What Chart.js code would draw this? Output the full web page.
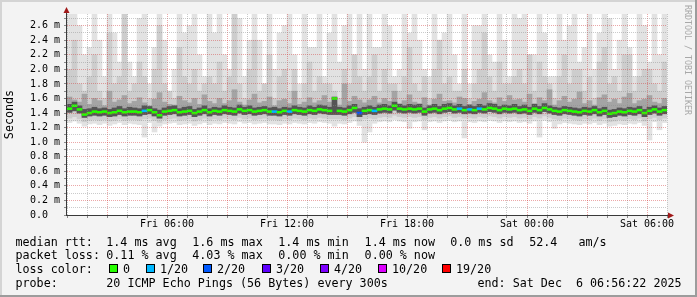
<!DOCTYPE html>
<html><head><meta charset="utf-8">
<script src="https://cdn.jsdelivr.net/npm/chart.js@4/dist/chart.umd.min.js"></script>
<style>html,body{margin:0;padding:0;background:#f3f3f3;overflow:hidden}canvas{display:block}</style>
</head><body>
<canvas id="c" width="697" height="297"></canvas>
<script>
// time axis: hours since Fri 00:00; window Fri 00:56 -> Sat 06:56, one column per 15 min
const startHour = 0.94;
const stepHours = 0.25;
const xTickHours = [6, 12, 18, 24, 30];
const xTickLabels = ['Fri 06:00', 'Fri 12:00', 'Fri 18:00', 'Sat 00:00', 'Sat 06:00'];
const yTickValues = [0, 0.2, 0.4, 0.6, 0.8, 1.0, 1.2, 1.4, 1.6, 1.8, 2.0, 2.2, 2.4, 2.6];
const yTickLabels = ['0.0  ', '0.2 m', '0.4 m', '0.6 m', '0.8 m', '1.0 m', '1.2 m', '1.4 m', '1.6 m', '1.8 m', '2.0 m', '2.2 m', '2.4 m', '2.6 m'];

// ping distribution per column (ms)
const maxPing = [
2.8,2.8,2.6,2.2,2.3,2.8,2.4,1.9,2.8,2.5,2.1,2.8,2.1,1.9,2.7,2.8,1.8,2.3,2.8,2.4,1.7,2.0,2.8,2.5,2.6,2.8,2.2,1.9,2.8,2.5,
2.8,2.2,2.0,2.8,2.7,1.9,2.4,2.8,2.4,1.8,2.8,2.0,2.5,2.6,2.8,2.2,1.8,2.8,2.3,2.3,2.8,1.9,2.5,2.8,2.1,2.6,2.8,2.2,2.8,2.0,
2.8,2.3,2.3,2.8,2.6,1.9,2.0,2.8,2.5,2.8,2.4,2.0,1.9,2.8,2.4,2.5,2.8,2.2,1.8,2.8,1.8,2.6,2.6,2.8,2.2,2.1,2.8,2.4,1.9,2.8,
2.7,2.8,2.2,2.2,2.8,2.5,1.9,1.9,2.8,2.4,2.6,2.8,2.1,2.3,2.8,2.0,2.5,2.8,2.7,2.0,2.4,2.8,2.3,1.9,2.8,2.6,2.1,2.8,2.2,2.8];
const highPing = [
2.0,2.4,1.8,1.7,1.9,2.2,1.7,1.6,2.5,1.8,1.9,2.8,1.7,1.8,2.1,1.9,1.6,2.0,2.6,1.8,1.7,1.6,2.3,1.9,1.8,2.0,1.7,1.8,1.9,1.8,
2.1,1.7,1.9,2.8,1.8,1.6,2.0,2.4,1.7,1.8,2.2,1.6,1.9,2.0,1.7,2.0,1.6,1.8,2.1,1.7,1.9,1.8,1.8,1.7,1.6,2.0,1.8,2.2,1.9,1.7,
1.9,2.2,1.7,2.0,1.8,1.8,1.7,1.9,2.3,1.8,1.7,1.9,1.6,2.0,2.4,1.8,1.9,1.7,1.7,2.0,1.6,1.8,2.0,2.5,1.9,1.7,2.1,1.8,1.8,1.9,
2.0,1.8,2.2,1.7,2.1,1.9,1.8,1.6,1.9,2.2,1.8,2.0,2.0,1.7,1.9,1.6,2.1,2.3,1.8,1.9,1.7,2.2,2.2,1.7,1.9,2.0,2.0,1.8,1.7,2.1];
const upperPing = [
1.62,1.58,1.55,1.66,1.52,1.60,1.57,1.50,1.70,1.55,1.58,1.64,1.53,1.56,1.61,1.54,1.50,1.59,1.68,1.55,1.52,1.51,1.63,1.57,1.54,1.60,1.52,1.65,1.56,1.53,
1.60,1.53,1.57,1.72,1.55,1.51,1.58,1.66,1.54,1.56,1.62,1.50,1.57,1.59,1.53,1.70,1.52,1.55,1.61,1.54,1.57,1.64,1.55,1.53,1.51,1.80,1.56,1.63,1.58,1.54,
1.58,1.63,1.54,1.60,1.56,1.70,1.53,1.57,1.65,1.55,1.53,1.61,1.51,1.59,1.66,1.56,1.57,1.54,1.62,1.60,1.52,1.56,1.59,1.68,1.57,1.54,1.61,1.56,1.64,1.58,
1.59,1.55,1.66,1.53,1.61,1.57,1.72,1.51,1.57,1.63,1.55,1.59,1.69,1.53,1.57,1.51,1.61,1.65,1.55,1.59,1.53,1.62,1.67,1.53,1.57,1.59,1.64,1.55,1.53,1.60];
const nearHigh = [
1.52,1.55,1.50,1.45,1.46,1.48,1.46,1.47,1.45,1.47,1.49,1.46,1.48,1.47,1.46,1.50,1.49,1.46,1.44,1.47,1.49,1.50,1.46,1.48,1.49,1.45,1.47,1.50,1.46,1.48,
1.47,1.50,1.48,1.47,1.51,1.48,1.50,1.47,1.48,1.49,1.47,1.48,1.46,1.48,1.47,1.50,1.48,1.47,1.50,1.48,1.51,1.50,1.48,1.62,1.48,1.47,1.50,1.52,1.46,1.48,
1.50,1.48,1.51,1.52,1.50,1.55,1.52,1.50,1.52,1.51,1.52,1.47,1.50,1.52,1.49,1.52,1.53,1.50,1.52,1.49,1.51,1.49,1.52,1.50,1.53,1.52,1.49,1.51,1.50,1.52,
1.49,1.51,1.48,1.52,1.49,1.53,1.50,1.48,1.47,1.49,1.48,1.47,1.46,1.48,1.47,1.49,1.46,1.48,1.44,1.45,1.47,1.46,1.48,1.47,1.49,1.45,1.48,1.50,1.47,1.49];
const medianRtt = [
1.46,1.50,1.45,1.38,1.40,1.42,1.41,1.42,1.40,1.41,1.43,1.41,1.42,1.42,1.41,1.43,1.44,1.41,1.37,1.42,1.43,1.44,1.41,1.42,1.43,1.40,1.42,1.44,1.41,1.43,
1.42,1.44,1.43,1.42,1.45,1.43,1.44,1.42,1.43,1.44,1.42,1.42,1.41,1.43,1.42,1.44,1.43,1.42,1.44,1.43,1.45,1.44,1.43,1.60,1.43,1.42,1.44,1.47,1.40,1.43,
1.44,1.43,1.45,1.46,1.45,1.50,1.46,1.45,1.46,1.45,1.46,1.42,1.45,1.46,1.44,1.46,1.47,1.45,1.46,1.44,1.45,1.44,1.46,1.45,1.47,1.46,1.44,1.46,1.45,1.46,
1.44,1.45,1.43,1.46,1.44,1.47,1.45,1.43,1.42,1.44,1.43,1.42,1.41,1.43,1.42,1.44,1.41,1.43,1.39,1.40,1.42,1.41,1.43,1.42,1.44,1.40,1.43,1.45,1.42,1.44];
const nearLow = [
1.41,1.43,1.40,1.34,1.36,1.37,1.36,1.37,1.35,1.36,1.38,1.36,1.37,1.37,1.36,1.38,1.39,1.36,1.33,1.37,1.38,1.39,1.36,1.37,1.38,1.35,1.37,1.39,1.36,1.38,
1.37,1.39,1.38,1.37,1.40,1.38,1.39,1.37,1.38,1.39,1.37,1.37,1.36,1.38,1.37,1.39,1.38,1.37,1.39,1.38,1.40,1.39,1.38,1.38,1.38,1.37,1.39,1.41,1.35,1.38,
1.39,1.38,1.40,1.41,1.40,1.44,1.41,1.40,1.41,1.40,1.41,1.37,1.40,1.41,1.39,1.41,1.42,1.40,1.41,1.39,1.40,1.39,1.41,1.40,1.42,1.41,1.39,1.41,1.40,1.41,
1.39,1.40,1.38,1.41,1.39,1.42,1.40,1.38,1.37,1.39,1.38,1.37,1.36,1.38,1.37,1.39,1.36,1.38,1.34,1.35,1.37,1.36,1.38,1.37,1.39,1.35,1.38,1.40,1.37,1.39];
const lowPing = [
1.33,1.35,1.32,1.28,1.30,1.31,1.30,1.31,1.29,1.30,1.32,1.30,1.31,1.31,1.30,1.32,1.33,1.30,1.27,1.31,1.32,1.33,1.30,1.31,1.32,1.29,1.31,1.33,1.30,1.32,
1.31,1.33,1.32,1.31,1.34,1.32,1.33,1.31,1.32,1.33,1.31,1.31,1.30,1.32,1.31,1.33,1.32,1.31,1.33,1.32,1.34,1.33,1.32,1.32,1.32,1.31,1.33,1.35,1.29,1.32,
1.33,1.32,1.34,1.35,1.34,1.37,1.35,1.34,1.35,1.34,1.35,1.31,1.34,1.35,1.33,1.35,1.36,1.34,1.35,1.33,1.34,1.33,1.35,1.34,1.36,1.35,1.33,1.35,1.34,1.35,
1.33,1.34,1.32,1.35,1.33,1.36,1.34,1.32,1.31,1.33,1.32,1.31,1.30,1.32,1.31,1.33,1.30,1.32,1.28,1.29,1.31,1.30,1.32,1.31,1.33,1.29,1.32,1.34,1.31,1.33];
const minPing = [
1.27,1.29,1.26,1.22,1.25,1.26,1.24,1.26,1.23,1.25,1.27,1.24,1.26,1.25,1.24,1.07,1.27,1.14,1.22,1.25,1.26,1.27,1.24,1.25,1.26,1.23,1.25,1.27,1.24,1.26,
1.25,1.27,1.26,1.25,1.28,1.26,1.27,1.25,1.26,1.27,1.25,1.25,1.24,1.26,1.25,1.27,1.26,1.25,1.27,1.26,1.28,1.27,1.26,1.22,1.26,1.25,1.27,1.29,1.23,1.00,
1.14,1.26,1.28,1.29,1.28,1.31,1.29,1.28,1.19,1.28,1.29,1.17,1.28,1.29,1.27,1.29,1.30,1.28,1.29,1.06,1.28,1.27,1.29,1.28,1.30,1.29,1.27,1.29,1.28,1.29,
1.27,1.28,1.26,1.29,1.07,1.30,1.28,1.19,1.25,1.27,1.26,1.25,1.24,1.26,1.25,1.27,1.24,1.26,1.22,1.23,1.25,1.24,1.26,1.25,1.27,1.23,1.03,1.28,1.17,1.27];
// lost pings (of 20) per column
const lossCount = [
0,0,0,0,0,0,0,0,0,0,0,0,0,0,0,1,0,0,0,0,0,0,0,0,0,0,0,0,0,0,
0,0,0,0,0,0,0,0,0,0,0,1,0,0,1,0,0,0,0,0,0,0,0,0,0,0,0,0,2,0,
0,1,0,0,0,0,0,0,0,0,0,0,0,0,0,0,0,0,1,0,1,0,1,0,0,0,0,0,0,0,
0,0,0,0,0,0,0,0,0,0,0,0,0,0,0,0,0,0,0,0,0,0,0,0,0,0,0,0,0,0];

const lossLevels = [0, 1, 2, 3, 4, 10, 19];
const lossLabels = ['0', '1/20', '2/20', '3/20', '4/20', '10/20', '19/20'];
const lossColors = ['#26ff00', '#00b8ff', '#0059ff', '#5e00ff', '#7e00ff', '#dd00ff', '#ff0000'];

const rttStats = ['1.4 ms avg', '1.6 ms max', '1.4 ms min', '1.4 ms now', '0.0 ms sd', '52.4', 'am/s'];
const lossStats = ['0.11 % avg', '4.03 % max', '0.00 % min', '0.00 % now'];
const probeText = '20 ICMP Echo Pings (56 Bytes) every 300s';
const endText = 'end: Sat Dec  6 06:56:22 2025';

const times = medianRtt.map((_, i) => startHour + stepHours * (i + 0.5));
function band(lo, hi) { return times.map((t, i) => ({x: t, y: [lo[i], hi[i]]})); }
function lossColor(n) { let c = lossColors[0]; lossLevels.forEach((l, k) => { if (n >= l) c = lossColors[k]; }); return c; }

const MONO = '"DejaVu Sans Mono", monospace';
const barBase = {grouped: false, barPercentage: 1, categoryPercentage: 1, borderWidth: 0, borderSkipped: false};

const deco = {
  id: 'deco',
  beforeDraw(chart) {
    const {ctx, chartArea: a} = chart;
    ctx.save();
    ctx.fillStyle = '#f3f3f3'; ctx.fillRect(0, 0, 697, 297);
    ctx.fillStyle = '#ffffff'; ctx.fillRect(a.left, a.top, a.right - a.left, a.bottom - a.top);
    ctx.fillStyle = '#d4d4d4'; ctx.fillRect(0, 0, 697, 2); ctx.fillRect(0, 0, 2, 297);
    ctx.fillStyle = '#9c9c9c'; ctx.fillRect(0, 295, 697, 2); ctx.fillRect(695, 0, 2, 297);
    ctx.restore();
  },
  afterDraw(chart) {
    const {ctx, chartArea: a} = chart;
    ctx.save();
    // axes
    ctx.strokeStyle = '#3a3a3a'; ctx.lineWidth = 1;
    ctx.beginPath();
    ctx.moveTo(a.left - 0.5, a.bottom + 0.5); ctx.lineTo(a.left - 0.5, 10);
    ctx.moveTo(a.left - 1, a.bottom + 0.5); ctx.lineTo(a.right + 2, a.bottom + 0.5);
    ctx.stroke();
    ctx.fillStyle = '#a01818';
    ctx.beginPath(); ctx.moveTo(a.left - 0.5, 7); ctx.lineTo(a.left - 3.5, 13); ctx.lineTo(a.left + 2.5, 13); ctx.closePath(); ctx.fill();
    ctx.beginPath(); ctx.moveTo(a.right + 7, a.bottom + 0.5); ctx.lineTo(a.right + 1, a.bottom - 2.5); ctx.lineTo(a.right + 1, a.bottom + 3.5); ctx.closePath(); ctx.fill();
    // legend text
    ctx.fillStyle = '#000'; ctx.font = '11.7px ' + MONO; ctx.textBaseline = 'alphabetic'; ctx.textAlign = 'left';
    const rows = [245.7, 259.3, 273, 286.7];
    const colX = [106.3, 192.3, 278.3, 364.6, 450.2, 529.2, 578.5];
    ctx.fillText('median rtt:', 15.5, rows[0]);
    rttStats.forEach((s, k) => ctx.fillText(s, colX[k], rows[0]));
    ctx.fillText('packet loss:', 15.5, rows[1]);
    lossStats.forEach((s, k) => ctx.fillText(s, colX[k], rows[1]));
    ctx.fillText('loss color:', 15.5, rows[2]);
    const boxX = [109, 146, 203, 261.7, 320, 377.7, 442.3];
    lossLabels.forEach((s, k) => {
      const bx = Math.round(boxX[k]);
      ctx.fillStyle = lossColors[k]; ctx.fillRect(bx, 264, 9, 9);
      ctx.strokeStyle = '#000'; ctx.strokeRect(bx + 0.5, 264.5, 8, 8);
      ctx.fillStyle = '#000'; ctx.fillText(s, bx + 14, rows[2]);
    });
    ctx.fillText('probe:', 15.5, rows[3]);
    ctx.fillText(probeText, colX[0], rows[3]);
    ctx.fillText(endText, 477.5, rows[3]);
    // watermark
    ctx.fillStyle = '#a8a8a8'; ctx.font = '8.3px ' + MONO; ctx.textBaseline = 'middle';
    ctx.translate(687.5, 5); ctx.rotate(Math.PI / 2);
    ctx.fillText('RRDTOOL / TOBI OETIKER', 0, 0);
    ctx.restore();
  }
};

new Chart(document.getElementById('c'), {
  type: 'bar',
  data: {
    datasets: [
      Object.assign({data: band(minPing, maxPing), backgroundColor: '#e2e2e2', order: 5}, barBase),
      Object.assign({data: band(lowPing, highPing), backgroundColor: '#cdcdcd', order: 4}, barBase),
      Object.assign({data: band(nearLow, upperPing), backgroundColor: '#a4a4a4', order: 3}, barBase),
      Object.assign({data: band(nearLow, nearHigh), backgroundColor: '#555555', order: 2}, barBase),
      Object.assign({data: times.map((t, i) => ({x: t, y: [medianRtt[i] - 0.013, medianRtt[i] + 0.013]})),
        backgroundColor: lossCount.map(lossColor), order: 1}, barBase)
    ]
  },
  options: {
    responsive: false, animation: false, devicePixelRatio: 1,
    layout: {padding: {left: 0, top: 14, right: 30, bottom: 62}},
    plugins: {legend: {display: false}, tooltip: {enabled: false}},
    scales: {
      x: {
        type: 'linear', min: startHour, max: startHour + 30, offset: false,
        afterFit(s) { s.height = 20; },
        grid: {offset: false, z: 1, lineWidth: 1, tickLength: 3, tickColor: '#8a8a8a',
          color: c => (Math.round(c.tick.value) % 3 === 0 ? 'rgba(210,60,60,0.45)' : 'rgba(140,140,140,0.45)')},
        border: {display: false, dash: [1, 1]},
        ticks: {stepSize: 1, includeBounds: false, autoSkip: false, maxRotation: 0, padding: 0,
          color: '#000', font: {family: MONO, size: 10},
          callback: v => { const k = xTickHours.indexOf(Math.round(v)); return k >= 0 ? xTickLabels[k] : ''; }}
      },
      y: {
        type: 'linear', min: 0, max: 2.76,
        afterFit(s) { s.width = 67; },
        grid: {z: 1, lineWidth: 1, tickLength: 3, tickColor: '#8a8a8a',
          color: c => (Math.round(c.tick.value * 10) % 2 === 0 ? 'rgba(210,60,60,0.45)' : 'rgba(140,140,140,0.45)')},
        border: {display: false, dash: [1, 1]},
        title: {display: true, text: 'Seconds', color: '#000', font: {family: MONO, size: 11.7}, padding: {top: 3, bottom: 0}},
        ticks: {stepSize: 0.1, includeBounds: false, autoSkip: false, padding: 4,
          color: '#000', font: {family: MONO, size: 10},
          callback: v => { const k = yTickValues.findIndex(t => Math.abs(t - v) < 1e-6); return k >= 0 ? yTickLabels[k] : ''; }}
      }
    }
  },
  plugins: [deco]
});
</script>
</body></html>
